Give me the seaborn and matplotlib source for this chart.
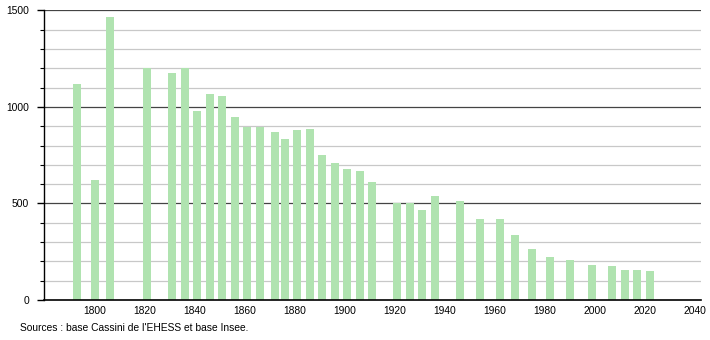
import matplotlib
matplotlib.use("Agg")
import matplotlib.pyplot as plt
import seaborn as sns
import pandas as pd
from matplotlib.ticker import MultipleLocator

years = [1793, 1800, 1806, 1821, 1831, 1836, 1841, 1846, 1851, 1856,
         1861, 1866, 1872, 1876, 1881, 1886, 1891, 1896, 1901, 1906,
         1911, 1921, 1926, 1931, 1936, 1946, 1954, 1962, 1968, 1975,
         1982, 1990, 1999, 2007, 2012, 2017, 2022]
population = [1120, 621, 1467, 1200, 1177, 1200, 979, 1067, 1056, 946,
              897, 897, 868, 832, 880, 886, 751, 708, 678, 668,
              611, 504, 504, 466, 540, 513, 419, 419, 337, 266,
              224, 209, 181, 178, 157, 155, 150]
x_ticks = [1800, 1820, 1840, 1860, 1880, 1900, 1920, 1940, 1960, 1980, 2000, 2020, 2040]
y_ticks = [0, 500, 1000, 1500]
source_text = "Sources : base Cassini de l'EHESS et base Insee."

df = pd.DataFrame({"year": years, "population": population})

sns.set_style("white")
plt.rcParams["font.family"] = ["Liberation Sans", "DejaVu Sans"]

fig = plt.figure(figsize=(7.1, 3.4), dpi=100)
ax = fig.add_axes([0.0625, 0.1176, 0.9245, 0.852])

sns.barplot(data=df, x="year", y="population", native_scale=True,
            color="#b0e3b0", saturation=1, width=0.8, linewidth=0, ax=ax)
for p in ax.patches:
    p.set_zorder(3)
    p.set_edgecolor("none")

# grid lines (behind bars)
for v in range(100, 1500, 100):
    if v % 500 != 0:
        ax.axhline(v, color="#c8c8c8", lw=0.9, zorder=1)
for v in (500, 1000, 1500):
    ax.axhline(v, color="#444444", lw=0.9, zorder=1)

ax.set_xlim(1779.8, 2042.4)
ax.set_ylim(0, 1500)
ax.set_xticks(x_ticks)
ax.set_xticklabels([str(t) for t in x_ticks])
ax.set_yticks(y_ticks)
ax.yaxis.set_minor_locator(MultipleLocator(100))
ax.set_xlabel("")
ax.set_ylabel("")

for s in ("top", "right"):
    ax.spines[s].set_visible(False)
ax.spines["left"].set_color("black")
ax.spines["left"].set_linewidth(1.0)
ax.spines["bottom"].set_color("black")
ax.spines["bottom"].set_linewidth(1.2)
ax.spines["bottom"].set_zorder(4)

ax.tick_params(axis="y", which="major", length=5, width=1, color="black",
               labelsize=7.4, labelcolor="black", pad=6, left=True)
ax.tick_params(axis="y", which="minor", length=3, width=0.8, color="black", left=True)
ax.tick_params(axis="x", which="major", length=0, labelsize=7.4,
               labelcolor="black", pad=4)

fig.text(0.028, 0.035, source_text, fontsize=7.4, color="black",
         ha="left", va="center")

fig.savefig("out.png", dpi=100)
